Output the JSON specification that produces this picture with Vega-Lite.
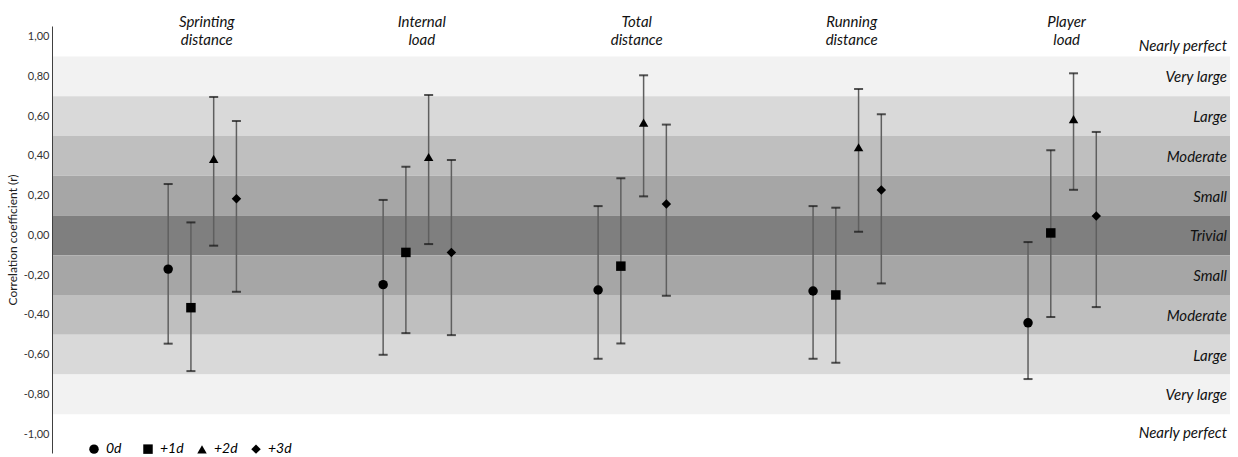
{
  "$schema": "https://vega.github.io/schema/vega-lite/v6.json",
  "width": 1178,
  "height": 427,
  "autosize": {"type": "none"},
  "padding": {"left": 52, "top": 26, "right": 8, "bottom": 4},
  "background": "white",
  "config": {"view": {"stroke": null}, "font": "Lato"},
  "datasets": {
    "bands": [
      {"magnitude": "Very large", "lo": 0.7, "hi": 0.9},
      {"magnitude": "Large", "lo": 0.5, "hi": 0.7},
      {"magnitude": "Moderate", "lo": 0.3, "hi": 0.5},
      {"magnitude": "Small", "lo": 0.1, "hi": 0.3},
      {"magnitude": "Trivial", "lo": -0.1, "hi": 0.1},
      {"magnitude": "Small", "lo": -0.3, "hi": -0.1},
      {"magnitude": "Moderate", "lo": -0.5, "hi": -0.3},
      {"magnitude": "Large", "lo": -0.7, "hi": -0.5},
      {"magnitude": "Very large", "lo": -0.9, "hi": -0.7}
    ],
    "labels": [
      {"magnitude": "Nearly perfect", "r": 0.955},
      {"magnitude": "Very large", "r": 0.8},
      {"magnitude": "Large", "r": 0.6},
      {"magnitude": "Moderate", "r": 0.4},
      {"magnitude": "Small", "r": 0.2},
      {"magnitude": "Trivial", "r": 0.0},
      {"magnitude": "Small", "r": -0.2},
      {"magnitude": "Moderate", "r": -0.4},
      {"magnitude": "Large", "r": -0.6},
      {"magnitude": "Very large", "r": -0.8},
      {"magnitude": "Nearly perfect", "r": -0.99}
    ],
    "points": [
      {"variable": "Sprinting distance", "lag": "0d", "r": -0.17, "lo": -0.545, "hi": 0.258},
      {"variable": "Sprinting distance", "lag": "+1d", "r": -0.364, "lo": -0.683, "hi": 0.065},
      {"variable": "Sprinting distance", "lag": "+2d", "r": 0.385, "lo": -0.052, "hi": 0.696},
      {"variable": "Sprinting distance", "lag": "+3d", "r": 0.184, "lo": -0.284, "hi": 0.575},
      {"variable": "Internal load", "lag": "0d", "r": -0.248, "lo": -0.601, "hi": 0.178},
      {"variable": "Internal load", "lag": "+1d", "r": -0.086, "lo": -0.492, "hi": 0.345},
      {"variable": "Internal load", "lag": "+2d", "r": 0.394, "lo": -0.044, "hi": 0.706},
      {"variable": "Internal load", "lag": "+3d", "r": -0.086, "lo": -0.502, "hi": 0.379},
      {"variable": "Total distance", "lag": "0d", "r": -0.275, "lo": -0.621, "hi": 0.147},
      {"variable": "Total distance", "lag": "+1d", "r": -0.155, "lo": -0.544, "hi": 0.287},
      {"variable": "Total distance", "lag": "+2d", "r": 0.567, "lo": 0.196, "hi": 0.805},
      {"variable": "Total distance", "lag": "+3d", "r": 0.157, "lo": -0.304, "hi": 0.557},
      {"variable": "Running distance", "lag": "0d", "r": -0.28, "lo": -0.621, "hi": 0.147},
      {"variable": "Running distance", "lag": "+1d", "r": -0.3, "lo": -0.641, "hi": 0.139},
      {"variable": "Running distance", "lag": "+2d", "r": 0.443, "lo": 0.018, "hi": 0.736},
      {"variable": "Running distance", "lag": "+3d", "r": 0.228, "lo": -0.242, "hi": 0.609},
      {"variable": "Player load", "lag": "0d", "r": -0.44, "lo": -0.723, "hi": -0.034},
      {"variable": "Player load", "lag": "+1d", "r": 0.012, "lo": -0.411, "hi": 0.428},
      {"variable": "Player load", "lag": "+2d", "r": 0.584, "lo": 0.229, "hi": 0.815},
      {"variable": "Player load", "lag": "+3d", "r": 0.097, "lo": -0.361, "hi": 0.52}
    ]
  },
  "layer": [
    {
      "data": {"name": "bands"},
      "mark": {"type": "rect"},
      "encoding": {
        "x": {"value": 0},
        "x2": {"value": "width"},
        "y": {
          "field": "lo",
          "type": "quantitative",
          "scale": {"domain": [-1.095, 1.053], "nice": false, "zero": false},
          "axis": {
            "title": "Correlation coefficient (r)",
            "values": [-1, -0.8, -0.6, -0.4, -0.2, 0, 0.2, 0.4, 0.6, 0.8, 1],
            "labelExpr": "(datum.value < -0.001 ? '-' : '') + replace(format(abs(datum.value), '.2f'), '.', ',')",
            "grid": false,
            "ticks": false,
            "zindex": 1,
            "domainColor": "#404040",
            "domainWidth": 1,
            "labelFontSize": 11,
            "labelColor": "#333333",
            "labelPadding": 3,
            "titleFontSize": 12,
            "titleFontWeight": "normal",
            "titleColor": "#202020",
            "titlePadding": 4
          }
        },
        "y2": {"field": "hi"},
        "color": {
          "field": "magnitude",
          "type": "nominal",
          "scale": {
            "domain": ["Very large", "Large", "Moderate", "Small", "Trivial"],
            "range": ["#f2f2f2", "#d9d9d9", "#bfbfbf", "#a6a6a6", "#7f7f7f"]
          },
          "legend": null
        }
      }
    },
    {
      "data": {"name": "labels"},
      "mark": {"type": "text", "align": "right", "baseline": "middle", "dx": -3, "dy": 1, "fontStyle": "italic", "fontSize": 15, "color": "#111111"},
      "encoding": {
        "x": {"value": "width"},
        "y": {"field": "r", "type": "quantitative"},
        "text": {"field": "magnitude"}
      }
    },
    {
      "data": {"name": "points"},
      "encoding": {
        "x": {
          "field": "variable",
          "type": "nominal",
          "sort": ["Sprinting distance", "Internal load", "Total distance", "Running distance", "Player load"],
          "scale": {"paddingInner": 0, "paddingOuter": 0.24, "align": 0.41},
          "axis": {
            "orient": "top",
            "title": null,
            "domain": false,
            "ticks": false,
            "zindex": 1,
            "labelAngle": 0,
            "labelExpr": "split(datum.label, ' ')",
            "labelFontStyle": "italic",
            "labelFontSize": 15,
            "labelLineHeight": 18,
            "labelColor": "#111111",
            "labelBaseline": "middle",
            "labelPadding": 5,
            "labelOffset": 5
          }
        },
        "xOffset": {
          "field": "lag",
          "type": "nominal",
          "sort": ["0d", "+1d", "+2d", "+3d"],
          "scale": {"paddingInner": 0, "paddingOuter": 0, "range": [62.5, 153.5]}
        }
      },
      "layer": [
        {
          "mark": {"type": "rule", "color": "#5f5f5f", "strokeWidth": 1.5},
          "encoding": {
            "y": {"field": "lo", "type": "quantitative"},
            "y2": {"field": "hi"}
          }
        },
        {
          "mark": {"type": "tick", "color": "#111111", "size": 9, "thickness": 2},
          "encoding": {"y": {"field": "lo", "type": "quantitative"}}
        },
        {
          "mark": {"type": "tick", "color": "#111111", "size": 9, "thickness": 2},
          "encoding": {"y": {"field": "hi", "type": "quantitative"}}
        },
        {
          "mark": {"type": "point", "filled": true, "color": "#000000", "opacity": 1, "size": 90},
          "encoding": {
            "y": {"field": "r", "type": "quantitative"},
            "shape": {
              "field": "lag",
              "type": "nominal",
              "sort": ["0d", "+1d", "+2d", "+3d"],
              "scale": {"domain": ["0d", "+1d", "+2d", "+3d"], "range": ["circle", "square", "triangle-up", "diamond"]},
              "legend": {
                "orient": "none",
                "legendX": 35,
                "legendY": 416,
                "direction": "horizontal",
                "title": null,
                "gridAlign": "all",
                "columnPadding": 10,
                "labelFontStyle": "italic",
                "labelFontSize": 14,
                "labelColor": "#000000",
                "labelOffset": 5,
                "symbolSize": 90,
                "symbolFillColor": "#000000",
                "symbolStrokeColor": "#000000",
                "symbolOpacity": 1
              }
            }
          }
        }
      ]
    }
  ]
}
